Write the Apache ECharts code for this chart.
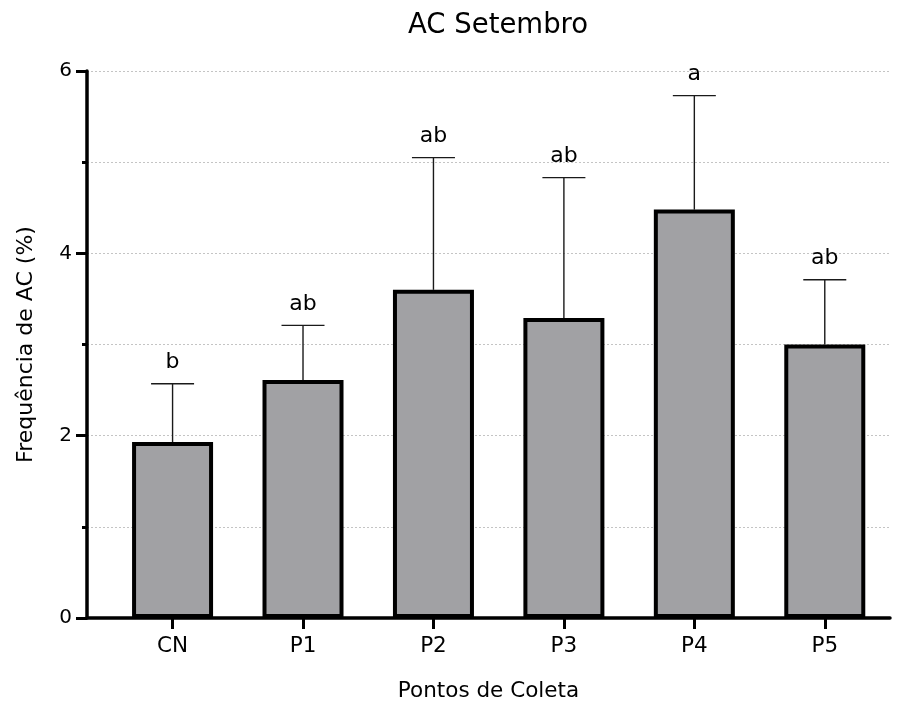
<!DOCTYPE html>
<html>
<head>
<meta charset="utf-8">
<script src="https://cdn.jsdelivr.net/npm/echarts@6/dist/echarts.min.js"></script>
<style>html,body{margin:0;padding:0;background:#fff}#c{width:899px;height:707px}</style>
</head>
<body>
<div id="c"></div>
<script>
var categories = ['CN', 'P1', 'P2', 'P3', 'P4', 'P5'];
var means = [1.93, 2.61, 3.60, 3.29, 4.48, 3.00];
var errTops = [2.57, 3.21, 5.05, 4.83, 5.73, 3.71];
var letters = ['b', 'ab', 'ab', 'ab', 'a', 'ab'];
var yTicks = [0, 2, 4, 6];

var FONT = 'DejaVu Sans';
var chart = echarts.init(document.getElementById('c'), null, {renderer: 'canvas'});
var idx = categories.map(function (_, i) { return i; });

chart.setOption({
  animation: false,
  backgroundColor: '#fff',
  title: {
    text: 'AC Setembro',
    left: 403,
    top: 7,
    textStyle: {fontFamily: FONT, fontSize: 27.5, fontWeight: 'normal', color: '#000'}
  },
  grid: {left: 87, right: 9, top: 71, bottom: 89, containLabel: false},
  xAxis: {
    type: 'value',
    min: -0.656,
    max: 5.5,
    name: 'Pontos de Coleta',
    nameLocation: 'middle',
    nameGap: 62,
    nameTextStyle: {fontFamily: FONT, fontSize: 21.5, color: '#000'},
    splitLine: {show: false},
    axisLine: {show: true, onZero: false, lineStyle: {color: '#000', width: 3.5}},
    axisTick: {show: true, customValues: idx, length: 11, lineStyle: {color: '#000', width: 3}},
    axisLabel: {
      customValues: idx,
      margin: 17,
      fontFamily: FONT, fontSize: 21.5, color: '#000',
      formatter: function (v) { return categories[Math.round(v)]; }
    }
  },
  yAxis: {
    type: 'value',
    min: 0,
    max: 6,
    interval: 2,
    name: 'Frequência de AC (%)',
    nameLocation: 'middle',
    nameGap: 50,
    nameTextStyle: {fontFamily: FONT, fontSize: 22, color: '#000'},
    axisLine: {show: true, onZero: false, lineStyle: {color: '#000', width: 3.5}},
    axisTick: {show: true, length: 11, lineStyle: {color: '#000', width: 3}},
    minorTick: {show: true, splitNumber: 2, length: 5, lineStyle: {color: '#000', width: 3}},
    axisLabel: {
      margin: 15, fontFamily: FONT, fontSize: 20, color: '#000',
      formatter: function (v) { return yTicks.indexOf(v) >= 0 ? String(v) : ''; }
    },
    splitLine: {show: true, lineStyle: {color: '#c4c4c4', width: 1, type: [2, 2]}},
    minorSplitLine: {show: true, lineStyle: {color: '#c4c4c4', width: 1, type: [2, 2]}}
  },
  series: [
    {
      type: 'custom',
      z: 1,
      data: idx.map(function (i) { return [i, means[i], errTops[i]]; }),
      renderItem: function (params, api) {
        var x = api.value(0);
        var base = api.coord([x, api.value(1)]);
        var top = api.coord([x, api.value(2)]);
        var half = 21.5;
        return {
          type: 'group',
          children: [
            {type: 'line', shape: {x1: base[0], y1: base[1], x2: top[0], y2: top[1]},
             style: {stroke: '#1a1a1a', lineWidth: 1.4}},
            {type: 'line', shape: {x1: top[0] - half, y1: top[1], x2: top[0] + half, y2: top[1]},
             style: {stroke: '#1a1a1a', lineWidth: 1.4}},
            {type: 'text', x: top[0], y: top[1] - 10,
             style: {text: letters[params.dataIndex], fontFamily: FONT, fontSize: 22, fill: '#000',
                     align: 'center', verticalAlign: 'bottom'}}
          ]
        };
      }
    },
    {
      type: 'bar',
      z: 3,
      barWidth: 81,
      data: idx.map(function (i) { return [i, means[i]]; }),
      itemStyle: {color: '#a1a1a4', borderColor: '#000', borderWidth: 4}
    }
  ]
});
</script>
</body>
</html>
